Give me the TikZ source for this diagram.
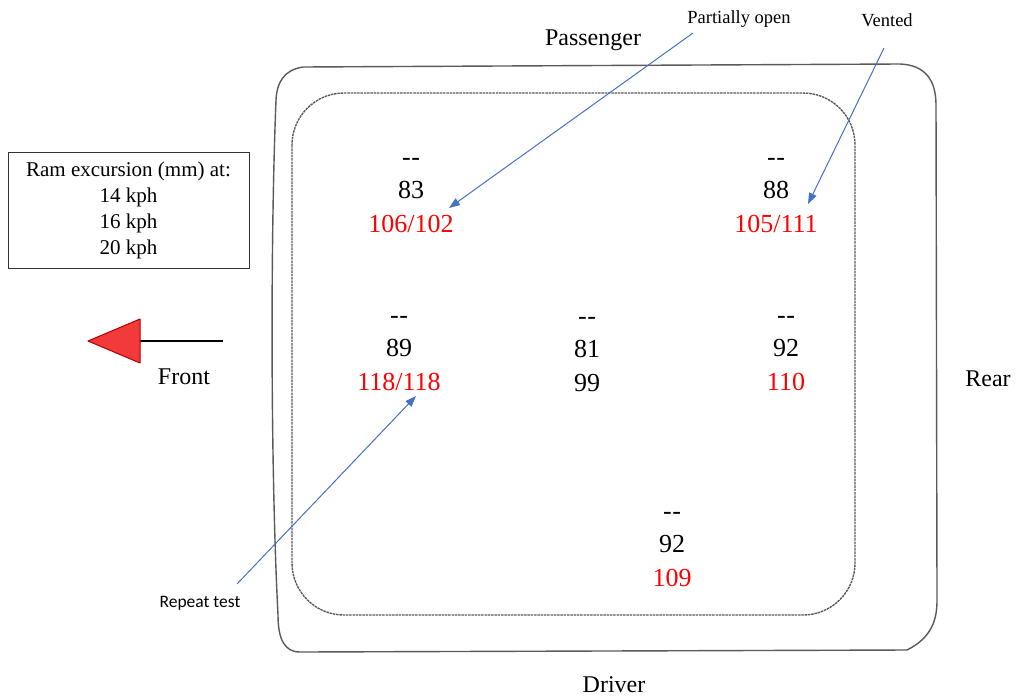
\documentclass[tikz,border=0pt]{standalone}
\usepackage{fontspec}
\setmainfont{Liberation Serif}
\newfontfamily\calibrifont{Carlito}
\usetikzlibrary{arrows.meta}
\definecolor{callblue}{HTML}{4472C4}
\definecolor{numred}{HTML}{FF0000}
\definecolor{arrfill}{HTML}{F23A3A}
\definecolor{arrline}{HTML}{B00000}
\definecolor{outline}{HTML}{5A5A5A}
\newcommand\dashpair{\mbox{-}\kern0.5pt\mbox{-}}
\newcommand\numgroup[6]{%
  \node[num] (#1a) at (#2,#3-33) {\dashpair};
  \node[num] (#1b) at (#2,#3) {#4};
  \node[num, text=#6] (#1c) at (#2,#3+34) {#5};
}
\begin{document}
\begin{tikzpicture}[x=1pt,y=-1pt,
  num/.style={anchor=base, inner sep=0pt, font=\fontsize{26}{30}\selectfont},
  lbl/.style={anchor=base, inner sep=0pt, font=\fontsize{24}{28}\selectfont},
  callout/.style={anchor=base, inner sep=0pt, font=\fontsize{18.5}{22}\selectfont},
  callarrow/.style={draw=callblue, line width=1pt, -{Triangle[length=11pt,width=8pt]}},
  outerline/.style={draw=outline, line width=1.4pt},
  innerline/.style={draw=outline, line width=1.4pt, dash pattern=on 2.5pt off 0.8pt},
  legend/.style={draw=black!80, line width=1pt, minimum width=241pt, minimum height=116pt, align=center, font=\fontsize{21}{26}\selectfont, inner sep=0pt}
]
\useasboundingbox (0,0) rectangle (1016,696);

% outer outline of the test area
\draw[outerline] (303,67) -- (900,64)
  .. controls (925,65) and (936,80) .. (936,105)
  -- (937,600)
  .. controls (937,618) and (933,637) .. (907,650)
  -- (300,652)
  .. controls (285,652) and (278,640) .. (278,615)
  .. controls (271,480) and (270,250) .. (276,100)
  .. controls (277,82) and (284,70) .. (303,67)
  -- cycle;

% inner dotted outline
\draw[innerline, rounded corners=52pt] (292,93) rectangle (855,615);

% legend
\node[legend] (legend) at (128.5,210) {Ram excursion (mm) at:\\14 kph\\16 kph\\20 kph};

% side labels
\node[lbl] (passenger) at (593,45) {Passenger};
\node[lbl] (driver) at (614,692) {Driver};
\node[lbl] (front) at (184,384) {Front};
\node[lbl] (rear) at (988,386) {Rear};

% front arrow
\coordinate (ftail) at (223,341);
\coordinate (fbase) at (140,341);
\coordinate (ftip) at (88,341);
\draw[black, line width=2pt] (ftail) -- (fbase);
\draw[fill=arrfill, draw=arrline, line width=1pt, line join=round] (ftip) -- (140,319) -- (140,363) -- cycle;

% number groups
\numgroup{g1}{411}{198}{83}{106/102}{numred}
\numgroup{g2}{776}{198}{88}{105/111}{numred}
\numgroup{g3}{399}{356}{89}{118/118}{numred}
\numgroup{g4}{587}{357}{81}{99}{black}
\numgroup{g5}{786}{356}{92}{110}{numred}
\numgroup{g6}{672}{552}{92}{109}{numred}

% callouts
\node[callout] (partial) at (739,23) {Partially open};
\node[callout] (vented) at (887,26) {Vented};
\node[callout, font=\calibrifont\fontsize{17.5}{21}\selectfont] (repeat) at (200,607) {Repeat test};

\coordinate (p1) at (693,33);
\coordinate (p2) at (449,208);
\coordinate (v1) at (884,48);
\coordinate (v2) at (808,204);
\coordinate (r1) at (237,584);
\coordinate (r2) at (416,396);
\draw[callarrow] (p1) -- (p2);
\draw[callarrow] (v1) -- (v2);
\draw[callarrow] (r1) -- (r2);
\end{tikzpicture}
\end{document}
